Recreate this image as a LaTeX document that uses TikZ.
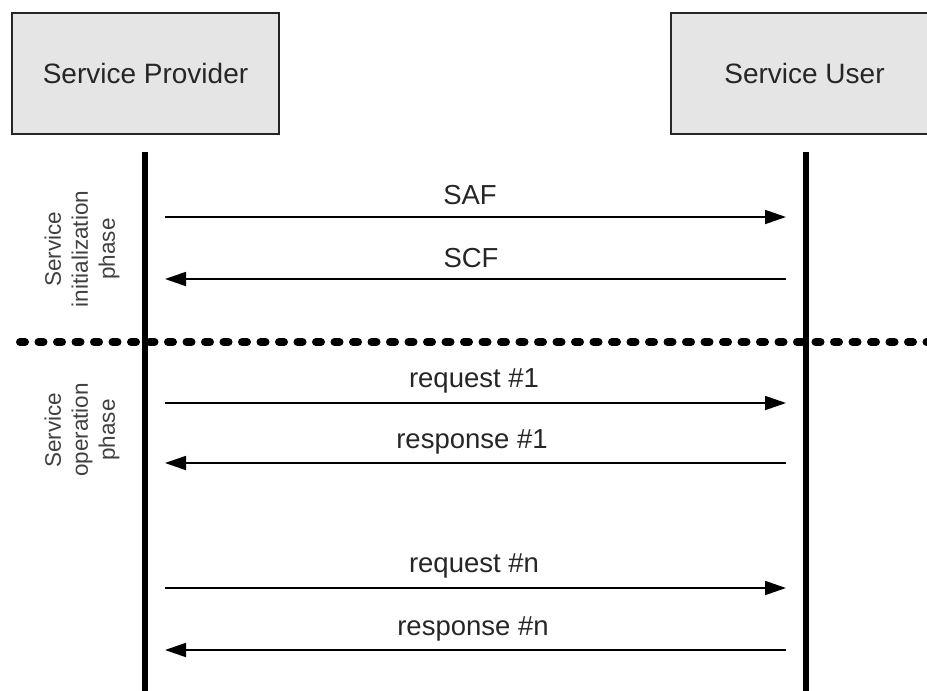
\documentclass[tikz,border=0pt]{standalone}
\usepackage{fontspec}
\setmainfont{Liberation Sans}
\usetikzlibrary{arrows.meta}
\begin{document}
\begin{tikzpicture}[x=1pt,y=-1pt,
  actor/.style={draw=black!85,line width=2pt,fill=black!10,minimum width=267pt,minimum height=121pt,inner sep=0pt,font=\fontsize{28}{30}\selectfont,text=black!85},
  lifeline/.style={line width=6pt},
  msg/.style={line width=1.8pt,-{Triangle[length=21pt,width=14pt]}},
  msglabel/.style={font=\fontsize{27.5}{30}\selectfont,text=black!85},
  phase/.style={font=\fontsize{22.5}{27}\selectfont,text=black!75,align=center,rotate=90},
  sep/.style={line width=8pt,dash pattern=on 5pt off 13.5pt,line cap=round}]
\useasboundingbox (0,0) rectangle (927,691);
\clip (0,0) rectangle (927,691);
\node[actor] (prov) at (145.5,73.5) {Service Provider};
\node[actor] (user) at (804.5,73.5) {Service User};
\coordinate (pt) at (145,152);
\coordinate (pb) at (145,700);
\coordinate (ut) at (806,152);
\coordinate (ub) at (806,700);
\draw[lifeline] (pt) -- (pb);
\draw[lifeline] (ut) -- (ub);
% messages
\coordinate (p1) at (165,217); \coordinate (u1) at (786,217);
\coordinate (p2) at (165,279); \coordinate (u2) at (786,279);
\coordinate (p3) at (165,403); \coordinate (u3) at (786,403);
\coordinate (p4) at (165,463); \coordinate (u4) at (786,463);
\coordinate (p5) at (165,588); \coordinate (u5) at (786,588);
\coordinate (p6) at (165,650); \coordinate (u6) at (786,650);
\draw[msg] (p1) -- (u1);
\draw[msg] (u2) -- (p2);
\draw[msg] (p3) -- (u3);
\draw[msg] (u4) -- (p4);
\draw[msg] (p5) -- (u5);
\draw[msg] (u6) -- (p6);
\node[msglabel] (l1) at (470,195) {SAF};
\node[msglabel] (l2) at (471,258) {SCF};
\node[msglabel] (l3) at (474,381) {request \#1};
\node[msglabel] (l4) at (472,442) {response \#1};
\node[msglabel] (l5) at (474,566) {request \#n};
\node[msglabel] (l6) at (473,629) {response \#n};
% separator
\coordinate (sl) at (20,342);
\coordinate (sr) at (935,342);
\draw[sep] (sl) -- (sr);
% phase labels
\node[phase] (ph1) at (82,249) {Service\\initialization\\phase};
\node[phase] (ph2) at (82,430) {Service\\operation\\phase};
\end{tikzpicture}
\end{document}
